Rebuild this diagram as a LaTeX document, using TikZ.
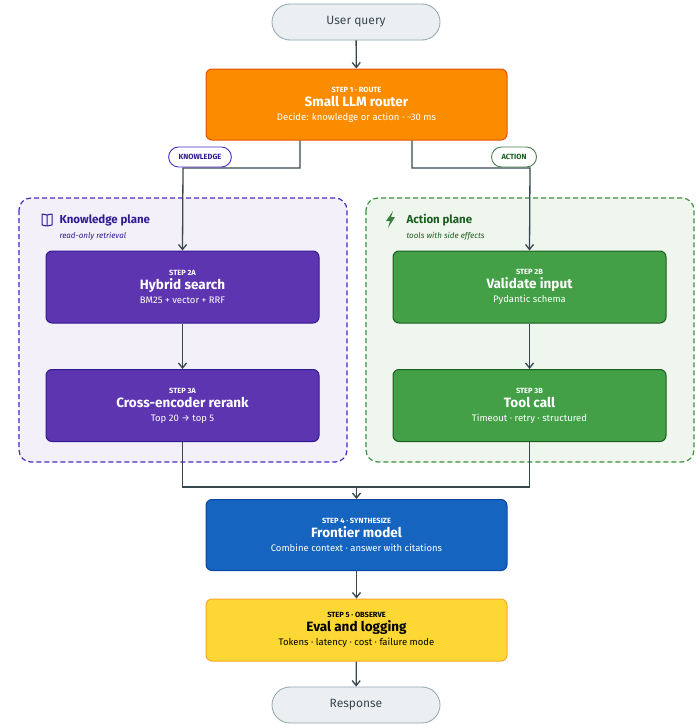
\documentclass[tikz,border=0pt]{standalone}
\usepackage{fontspec}
\setmainfont{Fira Sans}
\usetikzlibrary{arrows.meta}
\definecolor{gbg}{HTML}{ECEFF1}\definecolor{gbd}{HTML}{90A4AE}
\definecolor{org}{HTML}{FB8C00}\definecolor{orgd}{HTML}{E65100}
\definecolor{pur}{HTML}{5E35B1}\definecolor{purd}{HTML}{311B92}
\definecolor{grn}{HTML}{43A047}\definecolor{grnd}{HTML}{1B5E20}
\definecolor{blu}{HTML}{1565C0}\definecolor{blud}{HTML}{0D47A1}
\definecolor{yel}{HTML}{FDD835}\definecolor{yeld}{HTML}{F9A825}
\definecolor{ln}{HTML}{37474F}
\definecolor{kbg}{HTML}{F3F0FA}\definecolor{abg}{HTML}{EFF6EE}
\tikzset{x=1pt,y=-1pt,
 pill/.style={draw=gbd,fill=gbg,rounded corners=18pt,minimum width=168pt,minimum height=36pt,font=\fontsize{12}{14}\selectfont,text=ln,line width=0.8pt},
 stepbox/.style={rounded corners=6pt,minimum width=301pt,minimum height=71pt,line width=1pt,text=white,align=center},
 subbox/.style={rounded corners=6pt,minimum width=273pt,minimum height=72pt,line width=1pt,text=white,align=center},
 tagbox/.style={rounded corners=10pt,minimum height=20pt,line width=0.9pt,fill=white,font=\bfseries\fontsize{7.5}{9}\selectfont,inner xsep=10pt},
 plane/.style={dashed,dash pattern=on 5pt off 3pt,line width=1.2pt,rounded corners=12pt},
 arr/.style={draw=ln,line width=1.3pt,-{Straight Barb[length=5pt,width=8pt]}},
 con/.style={draw=ln,line width=1.3pt}}
\newcommand{\stxt}[3]{{\bfseries\fontsize{7.5}{9}\selectfont #1}\\[2pt]{\bfseries\fontsize{13.5}{16}\selectfont #2}\\[2pt]{\fontsize{9.5}{11}\selectfont #3}}
\begin{document}
\begin{tikzpicture}
\useasboundingbox (0,0) rectangle (700,728);
\draw[plane,draw=pur!80!blue,fill=kbg] (19,198) rectangle (347,462);
\draw[plane,draw=grn!90!black,fill=abg] (366,198) rectangle (694,462);
\node[pill] (q) at (356,22) {User query};
\node[stepbox,fill=org,draw=orgd] (s1) at (356.5,104.5) {\stxt{STEP 1 · ROUTE}{Small LLM router}{Decide: knowledge or action · \textasciitilde30 ms}};
\node[subbox,fill=pur,draw=purd] (s2a) at (182.5,287) {\stxt{STEP 2A}{Hybrid search}{BM25 + vector + RRF}};
\node[subbox,fill=pur,draw=purd] (s3a) at (182.5,405.5) {\stxt{STEP 3A}{Cross-encoder rerank}{Top 20 → top 5}};
\node[subbox,fill=grn,draw=grnd] (s2b) at (529.5,287) {\stxt{STEP 2B}{Validate input}{Pydantic schema}};
\node[subbox,fill=grn,draw=grnd] (s3b) at (529.5,405.5) {\stxt{STEP 3B}{Tool call}{Timeout · retry · structured}};
\node[stepbox,fill=blu,draw=blud] (s4) at (356.5,535) {\stxt{STEP 4 · SYNTHESIZE}{Frontier model}{Combine context · answer with citations}};
\node[stepbox,fill=yel,draw=yeld,text=black,minimum height=62pt] (s5) at (356.5,630) {\stxt{STEP 5 · OBSERVE}{Eval and logging}{Tokens · latency · cost · failure mode}};
\node[pill] (r) at (356,705) {Response};
% plane titles
\node[anchor=west,text=purd,font=\bfseries\fontsize{11.5}{13}\selectfont] (kt) at (56,220) {Knowledge plane};
\node[anchor=west,text=purd,font=\itshape\fontsize{8}{10}\selectfont] (ks) at (56,236) {read-only retrieval};
\node[anchor=west,text=grnd,font=\bfseries\fontsize{11.5}{13}\selectfont] (at) at (403,220) {Action plane};
\node[anchor=west,text=grnd,font=\itshape\fontsize{8}{10}\selectfont] (as) at (403,236) {tools with side effects};
% book icon
\draw[purd,line width=1pt,line join=round] (42,214) -- (42,225) -- (47,226) -- (52,225) -- (52,214) -- (47,215) -- cycle (47,215) -- (47,226);
% bolt icon
\fill[grn!80!black] (393,211) -- (386,221) -- (390,221) -- (388,228) -- (395,217) -- (391,217) -- cycle;
% connectors
\draw[arr] (q) -- (s1);
\coordinate (k1) at (300,168); \coordinate (k2) at (183,168);
\coordinate (a1) at (412,168); \coordinate (a2) at (530,168);
\draw[arr] (s1.south -| k1) -- (k1) -- (k2) -- (s2a.north);
\draw[arr] (s1.south -| a1) -- (a1) -- (a2) -- (s2b.north);
\node[tagbox,draw=pur!80!blue,text=purd] (kl) at (200,157) {KNOWLEDGE};
\node[tagbox,draw=grnd!80,text=grnd] (al) at (514,157) {ACTION};
\draw[arr] (s2a) -- (s3a);
\draw[arr] (s2b) -- (s3b);
\coordinate (m) at (356.5,487);
\draw[con] (s3a.south) |- (m);
\draw[con] (s3b.south) |- (m);
\draw[arr] (m) -- (s4.north);
\draw[arr] (s4) -- (s5);
\draw[arr] (s5) -- (r);
\end{tikzpicture}
\end{document}
